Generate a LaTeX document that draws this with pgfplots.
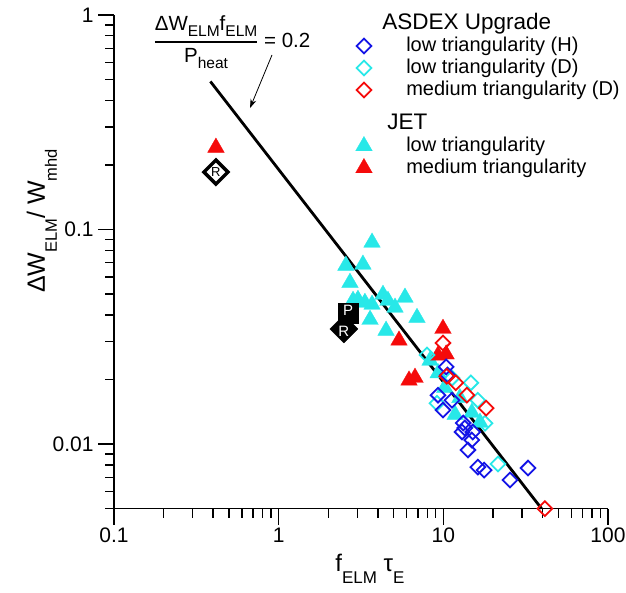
\documentclass[border=0pt]{standalone}
\usepackage{amsmath}
\usepackage{fontspec}
\setmainfont{Liberation Sans}
\usepackage{pgfplots}
\pgfplotsset{compat=1.18}
\usetikzlibrary{arrows.meta}
\definecolor{ccyan}{RGB}{40,232,232}
\definecolor{cblue}{RGB}{20,20,230}
\definecolor{cred}{RGB}{245,10,10}
\newcommand\fs[1]{\fontsize{#1}{#1}\selectfont}
\newcommand\sbx[2]{\raisebox{-0.32em}{\fs{#1}#2}}
\newcommand\sbl[2]{\raisebox{-0.48em}{\fs{#1}#2}}
\pgfplotsset{
  diam/.style={only marks, mark=square, mark size=5.2pt, mark options={rotate=45, line width=1.8pt, solid, fill=none}},
  tri/.style={only marks, mark=triangle*, mark size=9.6pt, mark options={line width=0.3pt, solid}},
}
\begin{document}
\begin{tikzpicture}
\begin{axis}[
  at={(0,0)}, anchor=south west,
  scale only axis, width=494pt, height=493.6pt,
  xmode=log, ymode=log,
  xmin=0.1, xmax=100, ymin=0.005, ymax=1,
  axis x line*=bottom, axis y line*=left,
  axis line style={line width=1.5pt},
  tick align=outside,
  major tick length=16pt, minor tick length=9pt,
  every tick/.append style={black, line width=1.4pt},
  xtick={0.1,1,10,100}, xticklabels={0.1,1,10,100},
  ytick={0.01,0.1,1}, yticklabels={0.01,0.1,1},
  minor xtick={0.2,0.3,0.4,0.5,0.6,0.7,0.8,0.9,2,3,4,5,6,7,8,9,20,30,40,50,60,70,80,90},
  minor ytick={0.005,0.006,0.007,0.008,0.009,0.02,0.03,0.04,0.05,0.06,0.07,0.08,0.09,0.2,0.3,0.4,0.5,0.6,0.7,0.8,0.9},
  tick label style={font=\fs{21}},
  yticklabel style={xshift=-1pt},
  clip=false,
  every axis x label/.style={at={(axis description cs:0.518,-0.1284)}, anchor=base},
  every axis y label/.style={at={(axis description cs:-0.14,0.583)}, anchor=base, rotate=90},
  xlabel={\fs{24}f\sbl{17}{ELM} τ\sbl{17}{E}},
  ylabel={\fs{25}ΔW\sbl{16.5}{ELM}/ W\sbl{16.5}{mhd}},
  legend cell align=left,
  legend style={at={(axis description cs:0.4878,1.002)}, anchor=north west, draw=none, fill=none,
    inner sep=0pt, outer sep=0pt, row sep=2pt, column sep=9pt, font=\fs{20},
    nodes={inner sep=1pt, text height=14pt, text depth=4pt}},
  legend image code/.code={\draw[mark repeat=2,mark phase=2,#1] plot coordinates {(0pt,0pt) (9pt,0pt) (18pt,0pt)};},
]
% legend entries
\addlegendimage{empty legend}
\addlegendentry[xshift=-24pt, yshift=4pt, font=\fs{22.5}]{ASDEX Upgrade}
\addlegendimage{diam, cblue}
\addlegendentry{low triangularity (H)}
\addlegendimage{diam, ccyan}
\addlegendentry{low triangularity (D)}
\addlegendimage{diam, cred}
\addlegendentry{medium triangularity (D)}
\addlegendimage{empty legend}
\addlegendentry[text height=8pt, text depth=0pt]{}
\addlegendimage{empty legend}
\addlegendentry[xshift=-19pt, yshift=1pt, font=\fs{22.5}]{JET}
\addlegendimage{tri, ccyan, fill=ccyan}
\addlegendentry{low triangularity}
\addlegendimage{tri, cred, fill=cred}
\addlegendentry{medium triangularity}

% JET low triangularity
\addplot[tri, ccyan, fill=ccyan, forget plot] coordinates {
(3.69,0.0870) (2.56,0.0679) (3.25,0.0687) (2.71,0.0565) (3.03,0.0471)
(3.34,0.0456) (3.69,0.0447) (4.30,0.0497) (4.61,0.0466) (5.09,0.0433)
(5.85,0.0482) (6.92,0.0388) (3.59,0.0380) (4.49,0.0338) (2.83,0.0466)
(8.30,0.0245) (9.3,0.0214) (10.2,0.0183) (12.6,0.0164) (14.9,0.0140)
(11.8,0.0137) (16.7,0.0126)
};
% JET medium triangularity
\addplot[tri, cred, fill=cred, forget plot] coordinates {
(0.416,0.241) (5.38,0.0304) (9.95,0.0345) (9.28,0.0259) (10.4,0.0262)
(6.19,0.0198) (6.73,0.0204)
};
% ASDEX low triangularity (D)
\addplot[diam, ccyan, forget plot] coordinates {
(7.96,0.0260) (14.7,0.0193) (17.9,0.0125) (21.5,0.00807) (9.15,0.0155)
(16.2,0.0160) (11.3,0.0203)
};
% ASDEX low triangularity (H)
\addplot[diam, cblue, forget plot] coordinates {
(10.4,0.0229) (10.6,0.0210) (9.28,0.0169) (9.95,0.0144) (11.3,0.0160)
(13.0,0.01138) (13.5,0.01188) (14.9,0.01044) (15.1,0.01138) (13.2,0.01253)
(14.1,0.00938) (16.2,0.00781) (17.7,0.00756) (25.4,0.00680) (32.7,0.00773)
};
% ASDEX medium triangularity (D)
\addplot[diam, cred, forget plot] coordinates {
(9.95,0.0296) (10.5,0.0207) (11.9,0.0193) (13.9,0.0169) (18.2,0.0147) (41.4,0.005)
};
% special black markers
\addplot[only marks, mark=square, mark size=8.5pt, mark options={rotate=45, line width=3.5pt, draw=black, fill=white}, forget plot] coordinates {(0.416,0.1853)};
\addplot[only marks, black, mark=text, text mark={\fs{13}R}, forget plot] coordinates {(0.416,0.1853)};
\addplot[only marks, black, mark=square*, mark size=10pt, forget plot] coordinates {(2.64,0.0408)};
\addplot[only marks, black, mark=square*, mark size=9.9pt, mark options={rotate=45}, forget plot] coordinates {(2.49,0.0344)};
\addplot[only marks, black, mark=text, text mark={\color{white}\fs{15}P}, forget plot] coordinates {(2.64,0.0420)};
\addplot[only marks, black, mark=text, text mark={\color{white}\fs{15}R}, forget plot] coordinates {(2.49,0.0334)};
% scaling line
\addplot[black, line width=2.8pt, no markers, forget plot] coordinates {(0.385,0.49) (39.5,0.005)};
\draw[-{Stealth[length=9pt,width=6pt]}, line width=0.8pt] (axis cs:0.911,0.651) -- (axis cs:0.670,0.3684);
\node at (axis cs:0.5207,0.7484) {\fs{20.5}$\displaystyle\genfrac{}{}{1.6pt}{0}{\mbox{ΔW\sbx{15.5}{ELM}f\sbx{15.5}{ELM}}}{\mbox{P\sbx{15.5}{heat}}}$\mbox{ = 0.2}};
\end{axis}
\pgfresetboundingbox
\path[use as bounding box] (-114pt,-84.4pt) rectangle (512pt,508.6pt);
\end{tikzpicture}
\end{document}
